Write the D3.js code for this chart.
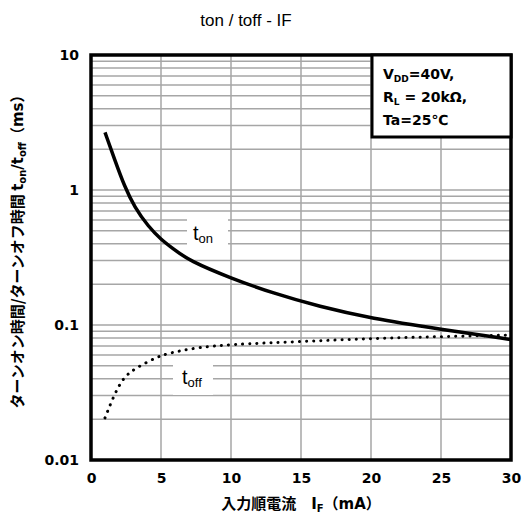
<!DOCTYPE html>
<html>
<head>
<meta charset="utf-8">
<script src="https://cdn.jsdelivr.net/npm/d3@7"></script>
<style>
  body { margin: 0; background: #fff; }
  svg text { font-family: "DejaVu Sans", Verdana, sans-serif; }
</style>
</head>
<body>
<svg id="chart" width="523" height="522"></svg>
<script>
// forward current (mA)
var tonIF = [1, 1.7, 2.4, 3.1, 4.1, 5, 5.9, 7, 10, 13, 16.3, 20, 25, 30];
var tonMs = [2.67, 1.67, 1.06, 0.75, 0.535, 0.43, 0.365, 0.30, 0.222, 0.172, 0.137, 0.112, 0.093, 0.078];

var toffIF = [1, 1.6, 2.3, 3.2, 4.7, 5.6, 7.5, 10, 15, 20, 25, 30];
var toffMs = [0.0205, 0.0295, 0.041, 0.048, 0.058, 0.062, 0.068, 0.072, 0.0753, 0.0796, 0.082, 0.0843];

var xTicks = [0, 5, 10, 15, 20, 25, 30];
var yTicks = [0.01, 0.1, 1, 10];
var yTickLabels = ['0.01', '0.1', '1', '10'];

(function () {

    var svg = d3.select('#chart');
    var left = 91, right = 511, top = 55, bottom = 460;

    var x = d3.scaleLinear().domain([0, 30]).range([left, right]);
    var y = d3.scaleLog().domain([0.01, 10]).range([bottom, top]);

    // title
    svg.append('text')
        .attr('x', 246).attr('y', 26)
        .attr('text-anchor', 'middle')
        .style('font-family', '"Liberation Sans", Arial, sans-serif')
        .style('font-size', '17px')
        .text('ton / toff - IF');

    // grid
    var grid = svg.append('g').attr('stroke', '#a6a6a6').attr('stroke-width', 1.5);
    var minor = [];
    [0.01, 0.1, 1].forEach(function (d) {
        for (var k = 1; k <= 9; k++) minor.push(d * k);
    });
    grid.selectAll('.h').data(minor).enter().append('line')
        .attr('x1', left).attr('x2', right)
        .attr('y1', function (d) { return y(d); })
        .attr('y2', function (d) { return y(d); });
    grid.selectAll('.v').data(xTicks).enter().append('line')
        .attr('y1', top).attr('y2', bottom)
        .attr('x1', function (d) { return x(d); })
        .attr('x2', function (d) { return x(d); });

    // curve labels with white patches
    function curveLabel(x0, x1, y0, y1, tx, ty, sub) {
        svg.append('rect')
            .attr('x', x0).attr('y', y0)
            .attr('width', x1 - x0).attr('height', y1 - y0)
            .attr('fill', '#fff');
        var t = svg.append('text')
            .attr('x', tx).attr('y', ty)
            .style('font-family', '"Liberation Sans", Arial, sans-serif')
            .style('font-size', '20px')
            .style('font-weight', '500')
            .text('t');
        t.append('tspan').attr('dy', 3).style('font-size', '13px').text(sub);
    }
    curveLabel(187, 228, 214, 248, 193, 240, 'on');
    curveLabel(173, 213, 362, 395, 182, 384, 'off');

    var line = d3.line()
        .x(function (d) { return x(d[0]); })
        .y(function (d) { return y(d[1]); })
        .curve(d3.curveBasis);

    svg.append('path')
        .datum(d3.zip(tonIF, tonMs))
        .attr('d', line)
        .attr('fill', 'none')
        .attr('stroke', '#000')
        .attr('stroke-width', 3.5);

    svg.append('path')
        .datum(d3.zip(toffIF, toffMs))
        .attr('d', line)
        .attr('fill', 'none')
        .attr('stroke', '#000')
        .attr('stroke-width', 3)
        .attr('stroke-linecap', 'round')
        .attr('stroke-dasharray', '0.1 7');

    // frame
    svg.append('rect')
        .attr('x', left).attr('y', top)
        .attr('width', right - left).attr('height', bottom - top)
        .attr('fill', 'none').attr('stroke', '#000').attr('stroke-width', 3.5);

    // axes
    var xAxis = svg.append('g')
        .attr('transform', 'translate(0,' + (bottom + 13) + ')')
        .call(d3.axisBottom(x).tickValues(xTicks).tickSize(0).tickPadding(0));
    xAxis.select('.domain').remove();
    xAxis.selectAll('text')
        .style('font-family', '"DejaVu Sans", Verdana, sans-serif')
        .style('font-weight', 'bold').style('font-size', '14px').attr('fill', '#000');

    var yAxis = svg.append('g')
        .attr('transform', 'translate(' + (left - 12) + ',0)')
        .call(d3.axisLeft(y).tickValues(yTicks).tickSize(0).tickPadding(0)
            .tickFormat(function (d, i) { return yTickLabels[i]; }));
    yAxis.select('.domain').remove();
    yAxis.selectAll('text')
        .style('font-family', '"DejaVu Sans", Verdana, sans-serif')
        .style('font-weight', 'bold').style('font-size', '14px').attr('fill', '#000');

    // x label
    var xl = svg.append('text')
        .attr('x', 301).attr('y', 509)
        .attr('text-anchor', 'middle')
        .style('font-family', '"DejaVu Sans", "Noto Sans CJK JP", sans-serif')
        .style('font-weight', 'bold').style('font-size', '15px');
    xl.append('tspan').style('font-family', '"Noto Sans CJK JP"').text('入力順電流　');
    xl.append('tspan').text('I');
    xl.append('tspan').attr('dy', 3).style('font-size', '10px').text('F');
    xl.append('tspan').attr('dy', -3).style('font-family', '"Noto Sans CJK JP"').text('（');
    xl.append('tspan').text('mA');
    xl.append('tspan').style('font-family', '"Noto Sans CJK JP"').text('）');

    // y label
    var yl = svg.append('text')
        .attr('transform', 'translate(23,' + 248 + ') rotate(-90)')
        .attr('text-anchor', 'middle')
        .style('font-family', '"DejaVu Sans", "Noto Sans CJK JP", sans-serif')
        .style('font-weight', 'bold').style('font-size', '15px');
    yl.append('tspan').style('font-family', '"Noto Sans CJK JP"').text('ターンオン時間/ターンオフ時間 ');
    yl.append('tspan').text('t');
    yl.append('tspan').attr('dy', 3).style('font-size', '10px').text('on');
    yl.append('tspan').attr('dy', -3).text('/t');
    yl.append('tspan').attr('dy', 3).style('font-size', '10px').text('off');
    yl.append('tspan').attr('dy', -3).style('font-family', '"Noto Sans CJK JP"').text('（');
    yl.append('tspan').text('ms');
    yl.append('tspan').style('font-family', '"Noto Sans CJK JP"').text('）');

    // conditions box
    svg.append('rect')
        .attr('x', 372).attr('y', top)
        .attr('width', right - 372).attr('height', 82)
        .attr('fill', '#fff').attr('stroke', '#000').attr('stroke-width', 3);
    var cond = [
        [['V', 0], ['DD', 1], ['=40V,', 0]],
        [['R', 0], ['L', 1], [' = 20kΩ,', 0]],
        [['Ta=25℃', 0]]
    ];
    cond.forEach(function (row, i) {
        var t = svg.append('text')
            .attr('x', 383).attr('y', 79 + i * 23)
            .style('font-weight', 'bold').style('font-size', '14px');
        var shifted = false;
        row.forEach(function (p) {
            var s = t.append('tspan').text(p[0]);
            if (p[1]) { s.attr('dy', 3).style('font-size', '9px'); shifted = true; }
            else if (shifted) { s.attr('dy', -3); shifted = false; }
        });
    });

})();
</script>
</body>
</html>
